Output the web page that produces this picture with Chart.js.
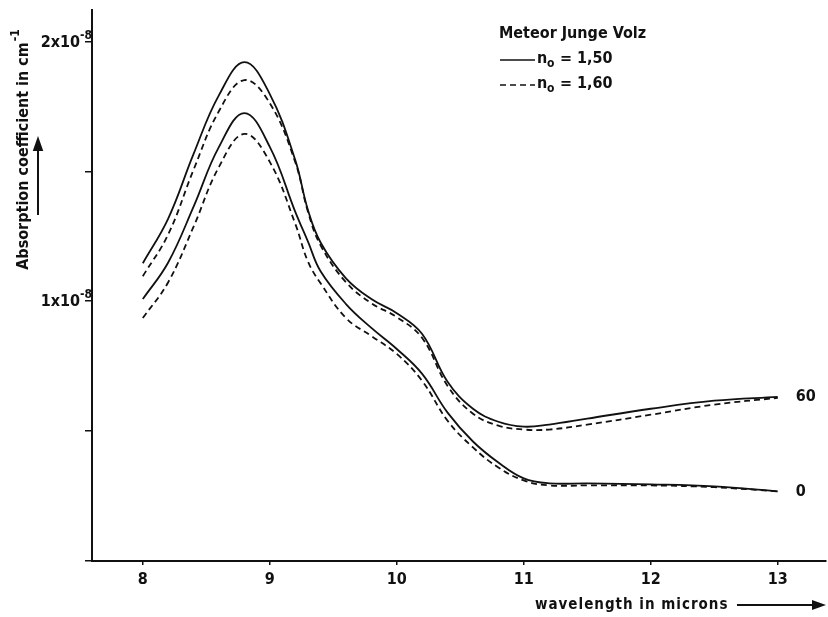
<!DOCTYPE html>
<html>
<head>
<meta charset="utf-8">
<script src="https://cdn.jsdelivr.net/npm/chart.js@4/dist/chart.umd.min.js"></script>
<style>
  body { margin: 0; background: #fff; }
  #chart { display: block; }
</style>
</head>
<body>
<canvas id="chart" width="828" height="617"></canvas>
<script>
// wavelength in microns
const wavelength = [8.0, 8.2, 8.4, 8.6, 8.8, 9.0, 9.2, 9.3, 9.4, 9.6, 9.8, 10.0, 10.2, 10.4, 10.6, 10.8, 11.0, 11.2, 11.5, 12.0, 12.5, 13.0];

// absorption coefficient, units of 1e-8 cm^-1
const rh60n150 = [1.146, 1.318, 1.567, 1.793, 1.920, 1.797, 1.544, 1.352, 1.226, 1.088, 1.008, 0.954, 0.874, 0.690, 0.586, 0.536, 0.517, 0.525, 0.548, 0.586, 0.617, 0.632];
const rh60n160 = [1.096, 1.257, 1.506, 1.732, 1.851, 1.762, 1.536, 1.345, 1.215, 1.073, 0.992, 0.939, 0.858, 0.674, 0.567, 0.521, 0.506, 0.506, 0.525, 0.563, 0.602, 0.628];
const rh0n150 = [1.008, 1.149, 1.364, 1.594, 1.724, 1.594, 1.345, 1.230, 1.115, 0.989, 0.897, 0.816, 0.720, 0.571, 0.460, 0.379, 0.318, 0.299, 0.299, 0.295, 0.287, 0.268];
const rh0n160 = [0.935, 1.073, 1.287, 1.517, 1.644, 1.536, 1.299, 1.153, 1.069, 0.935, 0.866, 0.797, 0.693, 0.540, 0.437, 0.360, 0.310, 0.291, 0.291, 0.291, 0.284, 0.268];

const xTicks = [8, 9, 10, 11, 12, 13];
const yTicks = [0, 0.5, 1, 1.5, 2];
const yTickLabels = { 1: "1x10", 2: "2x10" };
const curveLabels = ["60", "0"];

const FONT = "'DejaVu Sans Condensed', 'DejaVu Sans', sans-serif";

const pts = (arr) => wavelength.map((x, i) => ({ x, y: arr[i] }));
const line = (arr, dashed) => ({
  data: pts(arr),
  borderColor: "#111",
  borderWidth: 1.8,
  borderDash: dashed ? [6, 4] : [],
  pointRadius: 0,
  tension: 0.4,
  fill: false,
});

function arrow(ctx, x1, y1, x2, y2, head) {
  const a = Math.atan2(y2 - y1, x2 - x1);
  const c = Math.cos(a), s = Math.sin(a);
  ctx.beginPath();
  ctx.moveTo(x1, y1);
  ctx.lineTo(x2 - c * head, y2 - s * head);
  ctx.stroke();
  ctx.beginPath();
  ctx.moveTo(x2, y2);
  ctx.lineTo(x2 - c * head - s * head * 0.35, y2 - s * head + c * head * 0.35);
  ctx.lineTo(x2 - c * head + s * head * 0.35, y2 - s * head - c * head * 0.35);
  ctx.closePath();
  ctx.fill();
}

const decorations = {
  id: "decorations",
  afterDraw(chart) {
    const ctx = chart.ctx;
    const xs = chart.scales.x, ys = chart.scales.y;
    ctx.save();
    ctx.fillStyle = "#111";
    ctx.strokeStyle = "#111";
    ctx.lineWidth = 2;
    ctx.textBaseline = "middle";

    // y tick labels with superscript exponent
    yTicks.forEach((v) => {
      if (!yTickLabels[v]) return;
      const y = ys.getPixelForValue(v);
      ctx.textAlign = "right";
      ctx.font = "bold 12px " + FONT;
      ctx.fillText("-8", 92, y - 6);
      const w = ctx.measureText("-8").width;
      ctx.font = "bold 16px " + FONT;
      ctx.fillText(yTickLabels[v], 92 - w, y + 1);
    });

    // y axis title + arrow
    ctx.save();
    ctx.translate(24, 150);
    ctx.rotate(-Math.PI / 2);
    ctx.font = "bold 16px " + FONT;
    const t = "Absorption coefficient in cm";
    ctx.font = "bold 12px " + FONT;
    const sw = ctx.measureText("-1").width;
    ctx.font = "bold 16px " + FONT;
    const tw = ctx.measureText(t).width;
    const x0 = -(tw + sw) / 2;
    ctx.textAlign = "left";
    ctx.fillText(t, x0, 0);
    ctx.font = "bold 12px " + FONT;
    ctx.fillText("-1", x0 + tw + 1, -8);
    ctx.restore();
    arrow(ctx, 38, 215, 38, 136, 15);

    // x axis title + arrow
    ctx.font = "bold 15px " + FONT;
    ctx.textAlign = "left";
    ctx.letterSpacing = "1px";
    ctx.fillText("wavelength in microns", 535, 605);
    ctx.letterSpacing = "0px";
    arrow(ctx, 737, 605, 826, 605, 14);

    // legend
    ctx.font = "bold 16px " + FONT;
    ctx.fillText("Meteor Junge Volz", 499, 34);
    const rows = [["1,50", []], ["1,60", [6, 4]]];
    rows.forEach(([val, dash], i) => {
      const y = 60 + i * 25;
      ctx.lineWidth = 1.6;
      ctx.setLineDash(dash);
      ctx.beginPath();
      ctx.moveTo(500, y);
      ctx.lineTo(535, y);
      ctx.stroke();
      ctx.setLineDash([]);
      ctx.font = "bold 16px " + FONT;
      ctx.fillText("n", 537, y - 1);
      ctx.font = "bold 12px " + FONT;
      ctx.fillText("o", 547, y + 4);
      ctx.font = "bold 16px " + FONT;
      ctx.fillText("= " + val, 560, y - 1);
    });

    // curve end labels
    ctx.font = "bold 16px " + FONT;
    const ends = [rh60n150, rh0n150];
    ends.forEach((arr, i) => {
      ctx.fillText(curveLabels[i], xs.getPixelForValue(13) + 18, ys.getPixelForValue(arr[arr.length - 1]));
    });
    ctx.restore();
  },
};

new Chart(document.getElementById("chart"), {
  type: "line",
  data: {
    datasets: [
      line(rh60n150, false),
      line(rh60n160, true),
      line(rh0n150, false),
      line(rh0n160, true),
    ],
  },
  options: {
    responsive: false,
    animation: false,
    layout: { padding: { left: 0, top: 7, right: 2, bottom: 0 } },
    plugins: { legend: { display: false }, tooltip: { enabled: false } },
    scales: {
      x: {
        type: "linear",
        min: 7.6,
        max: 13.38,
        afterBuildTicks: (s) => { s.ticks = xTicks.map((v) => ({ value: v })); },
        afterFit: (s) => { s.height = 56; },
        border: { display: true, color: "#111", width: 2 },
        grid: { drawOnChartArea: false, drawTicks: true, tickLength: 4, color: "#111", lineWidth: 1.5 },
        ticks: { color: "#111", padding: 5, font: { family: FONT, size: 16, weight: "bold" } },
      },
      y: {
        type: "linear",
        min: 0,
        max: 2.12,
        afterBuildTicks: (s) => { s.ticks = yTicks.map((v) => ({ value: v })); },
        afterFit: (s) => { s.width = 92; },
        border: { display: true, color: "#111", width: 2 },
        grid: { drawOnChartArea: false, drawTicks: true, tickLength: 7, color: "#111", lineWidth: 1.5 },
        ticks: { display: true, callback: () => "" },
      },
    },
  },
  plugins: [decorations],
});
</script>
</body>
</html>
